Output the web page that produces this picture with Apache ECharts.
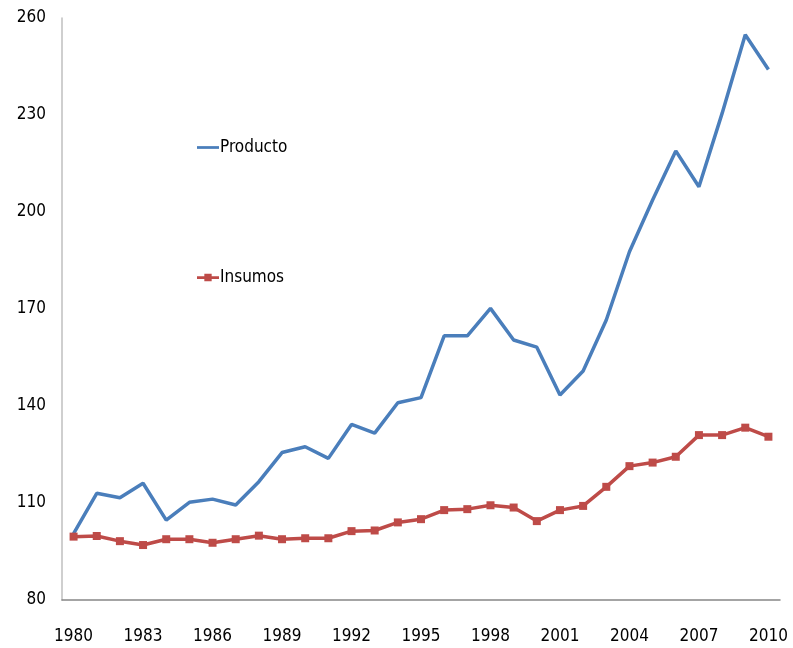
<!DOCTYPE html>
<html>
<head>
<meta charset="utf-8">
<script src="https://cdn.jsdelivr.net/npm/echarts@6/dist/echarts.min.js"></script>
<style>
	html, body { margin: 0; padding: 0; background: #fff; }
	#main { width: 793px; height: 648px; }
</style>
</head>
<body>
<div id="main"></div>
<script>
var years = [];
for (var y = 1980; y <= 2010; y++) years.push(String(y));

// Índices
var producto = [100.5, 113, 111.6, 116.1, 104.7, 110.2, 111.2, 109.4, 116.6, 125.6,
	127.4, 123.8, 134.3, 131.6, 141.0, 142.6, 161.7, 161.7, 170.2, 160.4,
	158.2, 143.4, 150.8, 166.6, 187.7, 203.7, 218.9, 207.8, 230.5, 254.8, 244.1];
var insumos = [99.6, 99.8, 98.2, 97.0, 98.8, 98.8, 97.7, 98.8, 99.9, 98.8,
	99.1, 99.1, 101.3, 101.5, 104.0, 105.0, 107.8, 108.1, 109.3, 108.6,
	104.4, 107.8, 109.1, 115.0, 121.4, 122.5, 124.3, 131.0, 131.0, 133.3, 130.5];

var fuente = "'DejaVu Sans Condensed', 'Liberation Sans Narrow', sans-serif";

window.onload = function() {
	var myChart = echarts.init(document.getElementById('main'));

	var option = {
		animation: false,
		backgroundColor: '#fff',
		grid: { left: 62, right: 13, top: 18, bottom: 48 },
		legend: {
			orient: 'vertical',
			left: 192,
			top: 134,
			itemGap: 113,
			itemWidth: 22,
			itemHeight: 10,
			textStyle: { fontFamily: fuente, fontSize: 17, color: '#000', padding: [0, 0, 0, -4] },
			data: [
				{ name: 'Producto', icon: 'path://M0,3.5 H24 V6.5 H0 Z' },
				{ name: 'Insumos', icon: 'path://M0,3.5 H24 V6.5 H0 Z M8,1 H16 V9 H8 Z' }
			]
		},
		xAxis: {
			type: 'category',
			data: years,
			boundaryGap: true,
			axisLine: { lineStyle: { color: '#868686', width: 1.5 } },
			axisTick: { show: false },
			axisLabel: {
				interval: 2,
				margin: 28,
				color: '#000',
				fontFamily: fuente,
				fontSize: 17
			}
		},
		yAxis: {
			type: 'value',
			min: 80,
			max: 260,
			interval: 30,
			axisLine: { show: true, lineStyle: { color: '#BFBFBF', width: 1.5 } },
			axisTick: { show: false },
			splitLine: { show: false },
			axisLabel: {
				margin: 16,
				color: '#000',
				fontFamily: fuente,
				fontSize: 17
			}
		},
		series: [
			{
				name: 'Producto',
				type: 'line',
				data: producto,
				symbol: 'none',
				color: '#4A7EBB',
				lineStyle: { width: 3.5, color: '#4A7EBB' }
			},
			{
				name: 'Insumos',
				type: 'line',
				data: insumos,
				symbol: 'rect',
				symbolSize: 8,
				color: '#BE4B48',
				itemStyle: { color: '#BE4B48' },
				lineStyle: { width: 3.5, color: '#BE4B48' }
			}
		]
	};

	myChart.setOption(option);
};
</script>
</body>
</html>
